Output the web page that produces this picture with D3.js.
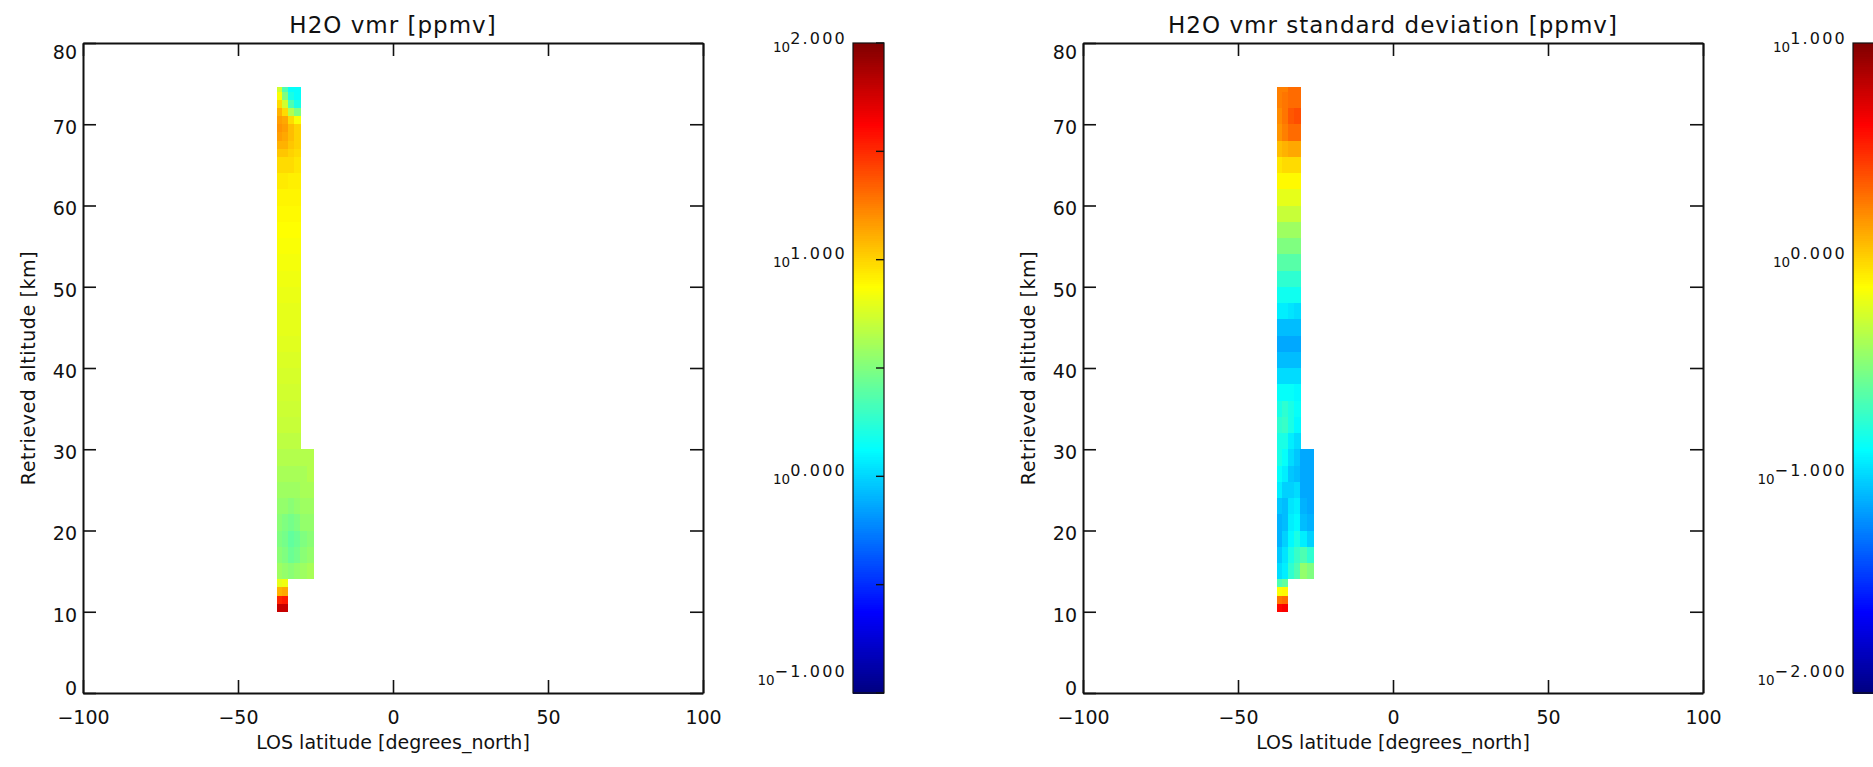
<!DOCTYPE html>
<html><head><meta charset="utf-8">
<script src="https://cdn.jsdelivr.net/npm/d3@7"></script>
<style>html,body{margin:0;padding:0;background:#fff;overflow:hidden}svg{display:block}</style>
</head><body>
<svg id="chart" width="1873" height="767"></svg>
<script>
// ---------------- data ----------------
const latTicks = [-100, -50, 0, 50, 100];
const altTicks = [0, 10, 20, 30, 40, 50, 60, 70, 80];
// cell edges (altitude in km, latitude in degrees_north)
const altEdges = [10,11,12,13,14,16,18,20,22,24,26,28,30,32,34,36,38,40,42,44,46,48,50,52,54,56,58,60,62,64,66,67,68,69,70,71,72,73,74,74.5];
const latEdges = [-37.5, -35.75, -34, -32, -30, -27.75, -25.5];
const _ = null;
// H2O vmr [ppmv], one array per latitude column, bottom (10 km) to top
const vmrCol1 = [61.7,33.1,12.6,6.31, 3.89,3.39,3.16,3.39,3.63,3.89,4.17,4.47, 4.79,5.13,5.31,5.50,5.69,5.89,6.10,6.31,6.31,6.53,6.76,7.00,7.24,7.50,7.76,8.04,8.61,9.55, 11.0,12.6,14.5,15.5,14.5,12.6,9.55,7.24,5.50];
const vmrCol2 = [61.7,35.5,13.5,6.76, 3.63,3.16,2.95,3.16,3.63,3.89,4.17,4.47, 4.79,5.13,5.31,5.50,5.69,5.89,6.10,6.31,6.31,6.53,6.76,7.00,7.24,7.50,7.76,8.04,8.61,9.55, 11.0,12.6,13.5,14.5,13.5,9.55,5.50,3.16,2.24];
const vmrCol3 = [_,_,_,_, 3.39,2.75,2.57,2.95,3.39,3.89,4.17,4.47, 4.79,5.13,5.31,5.50,5.69,5.89,6.10,6.31,6.31,6.53,6.76,7.00,7.24,7.50,7.76,8.04,8.32,9.55, 10.2,11.0,11.7,11.7,9.55,4.47,2.24,1.58,1.38];
const vmrCol4 = [_,_,_,_, 3.63,2.95,2.75,3.16,3.63,3.89,4.17,4.47, 4.79,5.13,5.31,5.50,5.69,5.89,6.10,6.31,6.31,6.53,6.76,7.00,7.24,7.50,7.76,8.04,8.32,8.91, 9.55,10.2,10.2,10.2,7.24,3.16,1.58,1.38,1.38];
const vmrCol5 = [_,_,_,_, 3.89,3.39,3.16,3.63,3.89,4.17,4.17,4.47, _,_,_,_,_,_,_,_,_,_,_,_,_,_,_,_,_,_, _,_,_,_,_,_,_,_,_];
const vmrCol6 = [_,_,_,_, 4.17,3.63,3.39,3.63,3.89,4.17,4.47,4.47, _,_,_,_,_,_,_,_,_,_,_,_,_,_,_,_,_,_, _,_,_,_,_,_,_,_,_];
// H2O vmr standard deviation [ppmv]
const sdCol1 = [4.07,1.91,0.724,0.224, 0.105,0.0912,0.0794,0.0794,0.0912,0.120,0.138,0.158, 0.158,0.182,0.158,0.138,0.105,0.0851,0.0741,0.0851,0.120,0.148,0.182,0.240,0.316,0.389,0.513,0.631,0.776,0.891, 1.17,1.17,1.55,1.55,1.66,1.66,1.78,1.78,1.78];
const sdCol2 = [4.37,2.04,0.776,0.257, 0.120,0.112,0.0977,0.0851,0.0851,0.0977,0.120,0.138, 0.158,0.195,0.182,0.138,0.105,0.0851,0.0741,0.0851,0.120,0.148,0.182,0.240,0.316,0.389,0.513,0.631,0.776,0.955, 1.26,1.26,1.78,1.78,1.91,1.91,1.91,1.91,1.78];
const sdCol3 = [_,_,_,_, 0.182,0.158,0.129,0.120,0.112,0.0977,0.0912,0.105, 0.120,0.158,0.158,0.138,0.105,0.0851,0.0741,0.0851,0.112,0.148,0.182,0.240,0.316,0.389,0.513,0.631,0.776,0.955, 1.35,1.35,2.04,2.04,2.34,2.34,2.04,2.04,2.04];
const sdCol4 = [_,_,_,_, 0.224,0.195,0.158,0.129,0.120,0.105,0.0851,0.0912, 0.105,0.129,0.138,0.129,0.105,0.0851,0.0741,0.0851,0.105,0.148,0.182,0.240,0.316,0.389,0.513,0.631,0.776,0.955, 1.35,1.35,2.04,2.04,2.51,2.51,2.04,2.04,2.04];
const sdCol5 = [_,_,_,_, 0.363,0.224,0.120,0.0851,0.0794,0.0741,0.0741,0.0741, _,_,_,_,_,_,_,_,_,_,_,_,_,_,_,_,_,_, _,_,_,_,_,_,_,_,_];
const sdCol6 = [_,_,_,_, 0.316,0.182,0.0977,0.0794,0.0741,0.0741,0.0741,0.0741, _,_,_,_,_,_,_,_,_,_,_,_,_,_,_,_,_,_, _,_,_,_,_,_,_,_,_];
// colour bar ranges (log10 exponents)
const vmrExponents = [-1, 0, 1, 2];
const sdExponents = [-2, -1, 0, 1];
const titles = ["H2O vmr [ppmv]", "H2O vmr standard deviation [ppmv]"];
const xTitle = "LOS latitude [degrees_north]";
const yTitle = "Retrieved altitude [km]";

// ---------------- drawing ----------------
const svg = d3.select('#chart');
const FONT = '"DejaVu Sans", Verdana, sans-serif';
function jet(t){
  t = Math.max(0, Math.min(1, t));
  const c = v => Math.round(255 * Math.max(0, Math.min(1, v)));
  return `rgb(${c(1.5 - Math.abs(4*t - 3))},${c(1.5 - Math.abs(4*t - 2))},${c(1.5 - Math.abs(4*t - 1))})`;
}
const minus = s => String(s).replace('-', '\u2212');
const clamp = (v, a, b) => Math.max(a, Math.min(b, v));

function drawPanel(cfg){
  const g = svg.append('g');
  const left = cfg.left, top = 43, w = 620, h = 650, bottom = top + h;
  const x = d3.scaleLinear().domain([-100, 100]).range([left, left + w]);
  const y = d3.scaleLinear().domain([0, 80]).range([bottom, top]);
  const lo = d3.min(cfg.exps), hi = d3.max(cfg.exps);
  const cnorm = d3.scaleLog().domain([Math.pow(10, lo), Math.pow(10, hi)]).range([0, 1]);

  // data cells
  const cells = g.append('g').attr('shape-rendering', 'crispEdges');
  cfg.cols.forEach((col, ci) => {
    col.forEach((v, ri) => {
      if (v == null) return;
      const x0 = x(latEdges[ci]), x1 = x(latEdges[ci + 1]);
      const y0 = y(altEdges[ri]), y1 = y(altEdges[ri + 1]);
      cells.append('rect')
        .attr('x', x0).attr('width', x1 - x0 + 0.5)
        .attr('y', y1 - 0.5).attr('height', y0 - y1 + 0.5)
        .attr('fill', jet(cnorm(v)));
    });
  });

  // axes (IDL style: inward ticks on all four sides)
  const styleAxis = sel => {
    sel.select('.domain').attr('stroke', '#111').attr('stroke-width', 2);
    sel.selectAll('.tick line').attr('stroke', '#111').attr('stroke-width', 1.6);
    sel.selectAll('text').attr('font-family', FONT).attr('font-size', 19).attr('fill', '#111');
  };
  const ax = g.append('g').attr('transform', `translate(0,${bottom})`)
    .call(d3.axisBottom(x).tickValues(latTicks).tickSizeInner(-13).tickSizeOuter(0).tickPadding(18).tickFormat(d => minus(d)))
    .call(styleAxis);
  ax.selectAll('text').attr('dy', '0.71em');
  const at = g.append('g').attr('transform', `translate(0,${top})`)
    .call(d3.axisTop(x).tickValues(latTicks).tickSizeInner(-13).tickSizeOuter(0).tickFormat(''))
    .call(styleAxis);
  at.selectAll('text').remove();
  const ay = g.append('g').attr('transform', `translate(${left},0)`)
    .call(d3.axisLeft(y).tickValues(altTicks).tickSizeInner(-13).tickSizeOuter(0).tickPadding(6))
    .call(styleAxis);
  ay.selectAll('.tick text').attr('dy', '0.36em')
    .attr('y', d => clamp(y(d) + 2.5, top + 8.5, bottom - 5) - y(d));
  const ar = g.append('g').attr('transform', `translate(${left + w},0)`)
    .call(d3.axisRight(y).tickValues(altTicks).tickSizeInner(-13).tickSizeOuter(0).tickFormat(''))
    .call(styleAxis);
  ar.selectAll('text').remove();

  // titles
  g.append('text').attr('x', left + w / 2).attr('y', 33).attr('text-anchor', 'middle')
    .attr('font-family', FONT).attr('font-size', 23).attr('letter-spacing', 1).attr('fill', '#111')
    .text(cfg.title);
  g.append('text').attr('x', left + w / 2).attr('y', 749).attr('text-anchor', 'middle')
    .attr('font-family', FONT).attr('font-size', 19).attr('fill', '#111').text(xTitle);
  g.append('text').attr('text-anchor', 'middle')
    .attr('transform', `translate(${left - 48},${(top + bottom) / 2}) rotate(-90)`)
    .attr('font-family', FONT).attr('font-size', 19).attr('letter-spacing', 0.6).attr('fill', '#111').text(yTitle);

  // colour bar
  const cbX = left + 770, cbW = 31;
  const cb = d3.scaleLinear().domain([lo, hi]).range([bottom, top]);
  const N = 300;
  const bar = g.append('g').attr('shape-rendering', 'crispEdges');
  d3.range(N).forEach(i => {
    const e0 = lo + (hi - lo) * i / N, e1 = lo + (hi - lo) * (i + 1) / N;
    bar.append('rect').attr('x', cbX).attr('width', cbW)
      .attr('y', cb(e1) - 0.5).attr('height', cb(e0) - cb(e1) + 1)
      .attr('fill', jet((i + 0.5) / N));
  });
  g.append('rect').attr('x', cbX).attr('y', top).attr('width', cbW).attr('height', h)
    .attr('fill', 'none').attr('stroke', '#111').attr('stroke-width', 1.2);
  d3.range(lo, hi + 0.001, 0.5).forEach(e => {
    g.append('line').attr('x1', cbX + cbW - 8).attr('x2', cbX + cbW)
      .attr('y1', cb(e)).attr('y2', cb(e)).attr('stroke', '#111').attr('stroke-width', 1.4);
  });
  cfg.exps.forEach(e => {
    const base = clamp(cb(e) + 7.5, top + 9, bottom - 8);
    const t = g.append('text').attr('x', cbX - 6).attr('y', base).attr('text-anchor', 'end')
      .attr('font-family', FONT).attr('fill', '#111');
    t.append('tspan').attr('font-size', 13.5).text('10');
    t.append('tspan').attr('font-size', 16).attr('dy', -8).attr('letter-spacing', 2.2)
      .text(minus(e.toFixed(3)));
  });
}

drawPanel({left: 83, title: titles[0], exps: vmrExponents,
  cols: [vmrCol1, vmrCol2, vmrCol3, vmrCol4, vmrCol5, vmrCol6]});
drawPanel({left: 1083, title: titles[1], exps: sdExponents,
  cols: [sdCol1, sdCol2, sdCol3, sdCol4, sdCol5, sdCol6]});
</script>
</body></html>
